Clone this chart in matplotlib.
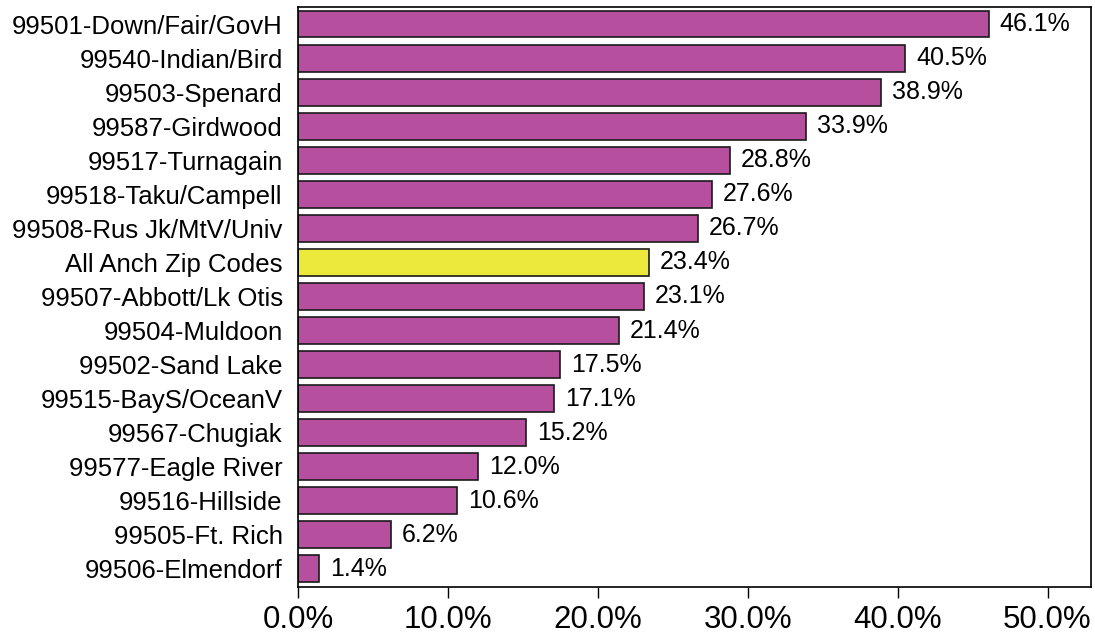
import matplotlib.pyplot as plt
from matplotlib.ticker import FuncFormatter

plt.rcParams['font.family'] = ['Liberation Sans', 'DejaVu Sans']

zips = ['99501-Down/Fair/GovH', '99540-Indian/Bird', '99503-Spenard', '99587-Girdwood',
        '99517-Turnagain', '99518-Taku/Campell', '99508-Rus Jk/MtV/Univ', 'All Anch Zip Codes',
        '99507-Abbott/Lk Otis', '99504-Muldoon', '99502-Sand Lake', '99515-BayS/OceanV',
        '99567-Chugiak', '99577-Eagle River', '99516-Hillside', '99505-Ft. Rich',
        '99506-Elmendorf']
pct = [46.1, 40.5, 38.9, 33.9, 28.8, 27.6, 26.7, 23.4, 23.1, 21.4, 17.5, 17.1,
       15.2, 12.0, 10.6, 6.2, 1.4]
highlight = 'All Anch Zip Codes'

fig = plt.figure(figsize=(10.95, 6.37), dpi=100)
ax = fig.add_axes([298 / 1095, 50 / 637, 793 / 1095, 580 / 637])

colors = ['#EDE83C' if z == highlight else '#B64F9E' for z in zips]
ypos = list(range(len(zips)))[::-1]
ax.barh(ypos, [p / 100 for p in pct], height=0.79, color=colors,
        edgecolor='#1a1a1a', linewidth=1.2)
for y, p in zip(ypos, pct):
    ax.text(p / 100 + 0.0072, y, f'{p:.1f}%', va='center', ha='left', fontsize=18)

ax.set_xlim(0, 0.529)
ax.set_ylim(-0.53, 16.5)
ax.set_yticks(ypos)
ax.set_yticklabels(zips, fontsize=18.5)
ax.tick_params(axis='y', length=0, pad=11)
ax.set_xticks([0, 0.1, 0.2, 0.3, 0.4, 0.5])
ax.xaxis.set_major_formatter(FuncFormatter(lambda v, _: f'{v * 100:.1f}%'))
ax.tick_params(axis='x', labelsize=22.5, length=8, direction='out', width=1, pad=5)
for s in ax.spines.values():
    s.set_linewidth(1.2)

fig.savefig('out.png', dpi=100)
